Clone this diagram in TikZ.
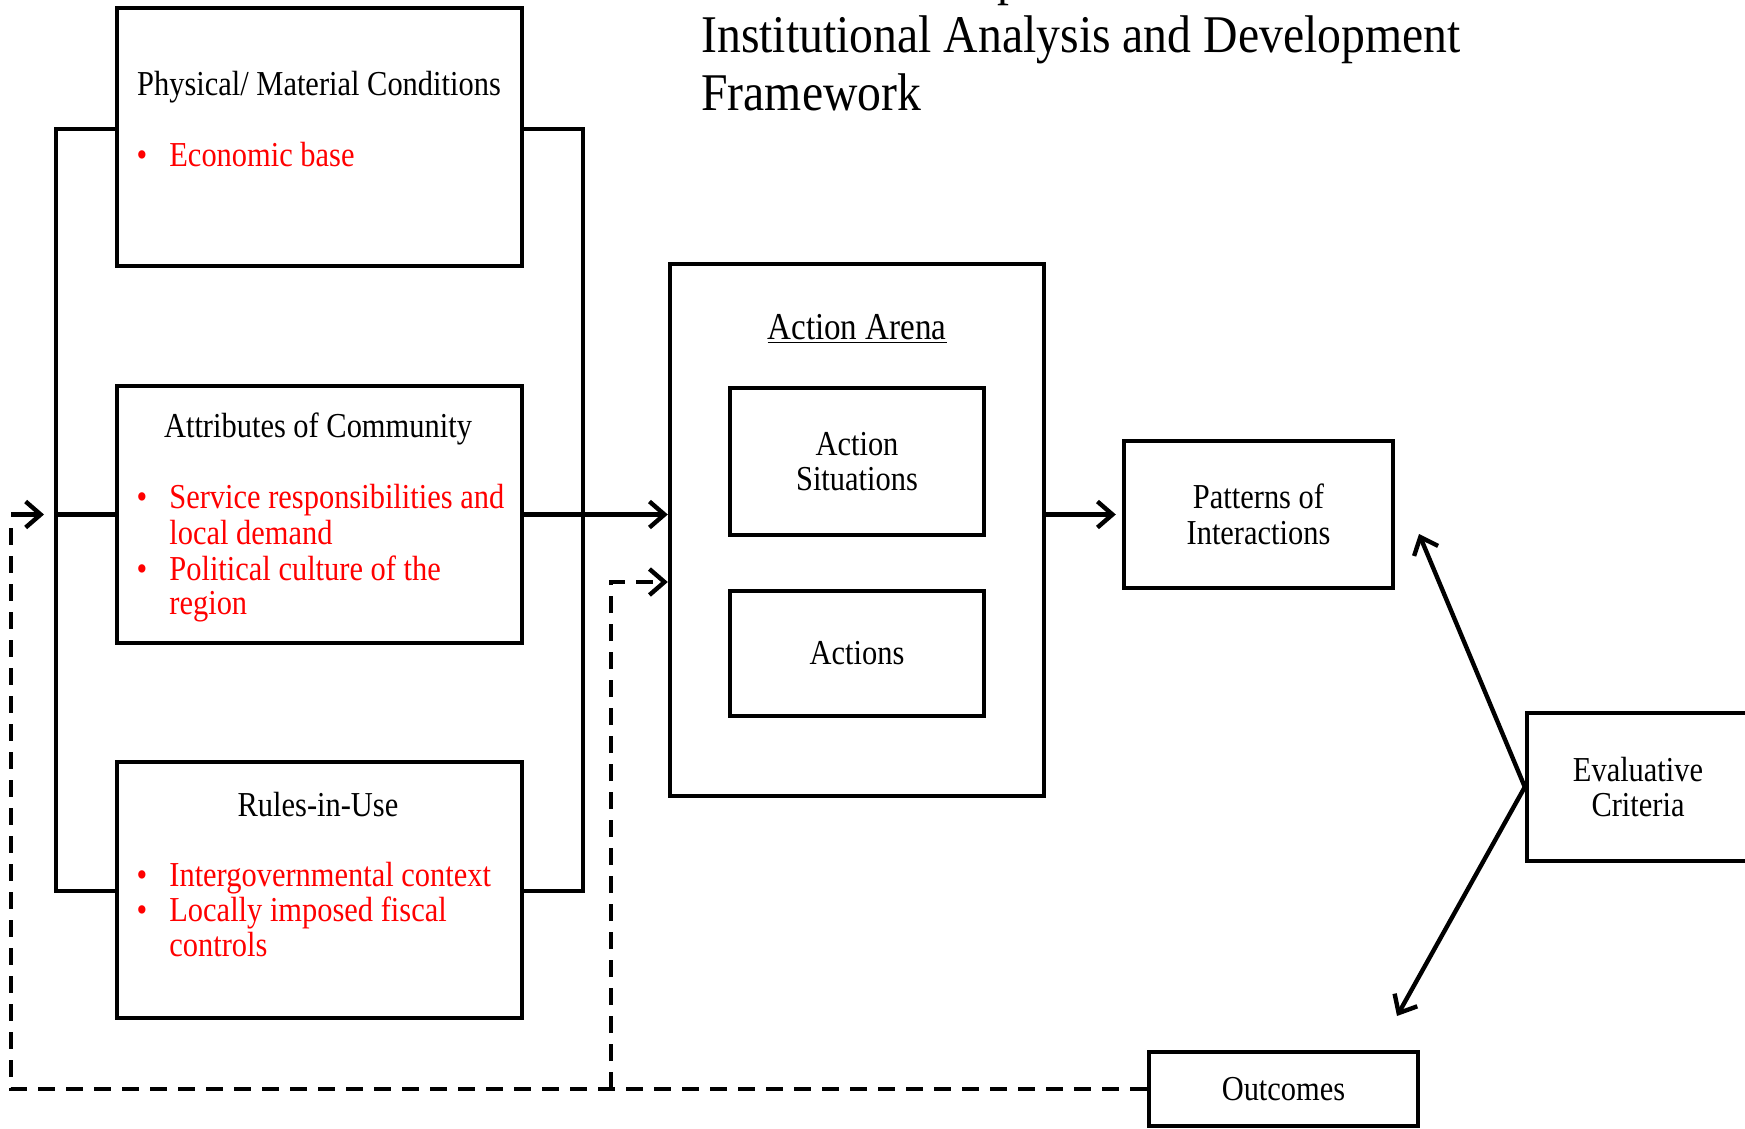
\documentclass[tikz,border=0pt]{standalone}
\usepackage{fontspec}
\setmainfont{Liberation Serif}[FakeStretch=0.87]
\newfontfamily\titlefont{Liberation Serif}[FakeStretch=0.9]
\usetikzlibrary{arrows.meta}
\definecolor{bulletred}{RGB}{255,0,0}
\newcommand\bul{\llap{\textbullet\hspace{11pt}}}
\tikzset{
  box/.style 2 args={draw, line width=2.2pt, inner sep=0pt, minimum width=#1*0.5pt, minimum height=#2*0.5pt, align=center, font=\fontsize{17.5}{17.8}\selectfont},
  lbl/.style={font=\fontsize{17.5}{17.8}\selectfont, align=center, inner sep=0pt},
  rtxt/.style={font=\fontsize{17.5}{17.8}\selectfont, text=bulletred, inner sep=0pt, anchor=base west},
  ttl/.style={font=\titlefont\fontsize{26.5}{29}\selectfont, inner sep=0pt, anchor=base west},
  plain/.style={line width=2.2pt},
  tip/.style={-{Straight Barb[length=7.5pt,width=13pt,line width=2.2pt]}},
  conn/.style={line width=2.2pt, tip},
  dashline/.style={line width=2.2pt, dash pattern=on 8.5pt off 5.5pt}
}
\begin{document}
\begin{tikzpicture}[x=0.5pt,y=-0.5pt]
\useasboundingbox (0,0) rectangle (1745,1129);
% title
\node[ttl] (tp) at (997,-5) {p};
\node[ttl] (t1) at (701,53) {Institutional Analysis and Development};
\node[ttl] (t2) at (701,111) {Framework};
% left boxes
\node[box={405}{258}] (phys) at (319.5,137) {};
\node[box={405}{257}] (attr) at (319.5,514.5) {};
\node[box={405}{256}] (rules) at (319.5,890) {};
\node[lbl] (tphys) at (319,87) {Physical/ Material Conditions};
\node[rtxt] (p1) at (169,167) {\bul Economic base};
\node[lbl] (tattr) at (318,429) {Attributes of Community};
\node[rtxt] (a1) at (169,508.5) {\bul Service responsibilities and};
\node[rtxt] (a2) at (169,544) {local demand};
\node[rtxt] (a3) at (169,580) {\bul Political culture of the};
\node[rtxt] (a4) at (169,614.5) {region};
\node[lbl] (trules) at (318,805) {Rules-in-Use};
\node[rtxt] (u1) at (169,886) {\bul Intergovernmental context};
\node[rtxt] (u2) at (169,921) {\bul Locally imposed fiscal};
\node[rtxt] (u3) at (169,956) {controls};
% arena
\node[box={374}{532}] (arena) at (857,530) {};
\node[lbl, font=\fontsize{19}{20}\selectfont] (tarena) at (857,329) {\underline{Action Arena}};
\node[box={254}{147}] (sit) at (857,461.5) {Action\\Situations};
\node[box={254}{125}] (acts) at (857,653.5) {Actions};
% right side
\node[box={269}{147}] (pat) at (1258.5,514.5) {Patterns of\\Interactions};
\node[box={222}{148}] (eval) at (1638,787) {Evaluative\\Criteria};
\node[box={269}{74}] (out) at (1283.5,1089) {Outcomes};
% brackets
\draw[plain] ([yshift=4pt]phys.west) -- ++(-59,0) |- ([yshift=-0.5pt]rules.west);
\draw[plain] (attr.west) -- ++(-59,0);
\draw[plain] ([yshift=4pt]phys.east) -- ++(59,0) |- ([yshift=-0.5pt]rules.east);
\draw[conn] (attr.east) -- (attr.east -| arena.west);
% arena to patterns
\draw[conn, shorten >=3pt] (pat.west -| arena.east) -- (pat.west);
% evaluative arrows
\coordinate (e1) at (1419,534);
\coordinate (e2) at (1397,1016);
\draw[conn] (eval.west) -- (e1);
\draw[conn] (eval.west) -- (e2);
% feedback
\coordinate (fbin) at (44,0 |- attr.west);
\draw[dashline] (out.west) -- (11,0 |- out.west) -- (11,526);
\draw[conn] (11,0 |- attr.west) -- (fbin);
\coordinate (jn) at (611,0 |- out.west);
\draw[dashline, tip] (jn) |- (arena.west |- 0,582);
\end{tikzpicture}
\end{document}
